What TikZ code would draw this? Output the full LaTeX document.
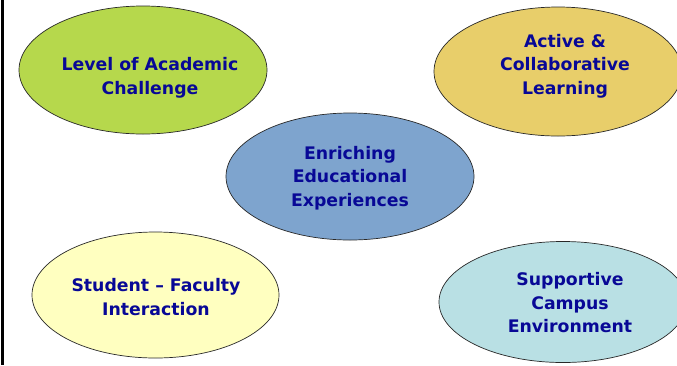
\documentclass[tikz,border=0pt]{standalone}
\usepackage{fontspec}
\setmainfont{DejaVu Sans}
\usetikzlibrary{shapes.geometric}
\definecolor{txtblue}{RGB}{8,8,150}
\definecolor{fgreen}{RGB}{182,216,76}
\definecolor{fyellow}{RGB}{232,206,106}
\definecolor{fblue}{RGB}{126,164,206}
\definecolor{fcream}{RGB}{255,255,192}
\definecolor{fcyan}{RGB}{185,224,228}
\tikzset{
  blob/.style={ellipse, draw={rgb,255:red,40;green,40;blue,40}, line width=0.7pt,
    minimum width=248pt, minimum height=128pt, inner sep=0pt},
  lbl/.style={align=center, text=txtblue, font=\bfseries\fontsize{17.3}{23.5}\selectfont, inner sep=0pt},
}
\begin{document}
\begin{tikzpicture}[x=1pt,y=-1pt]
\useasboundingbox (0,0) rectangle (677,365);
\clip (0,0) rectangle (677,365);
\fill[white] (0,0) rectangle (677,365);
\draw[line width=2.5pt] (2.7,0) -- (2.7,365);
\node[blob, fill=fgreen] (lac) at (143,70) {};
\node[blob, fill=fyellow, minimum height=129pt] (acl) at (558,71.5) {};
\node[blob, fill=fblue, minimum height=127pt] (eee) at (350,176.5) {};
\node[blob, fill=fcream, minimum width=247pt, minimum height=126pt] (sfi) at (155.5,295) {};
\node[blob, fill=fcyan, minimum height=121pt] (sce) at (563,302) {};
\node[lbl] (tlac) at (150,78) {Level of Academic\\Challenge};
\node[lbl] (tacl) at (565,66) {Active \&\\Collaborative\\Learning};
\node[lbl] (teee) at (350,178) {Enriching\\Educational\\Experiences};
\node[lbl] (tsfi) at (156,297) {Student -- Faculty\\Interaction};
\node[lbl] (tsce) at (570,303) {Supportive\\Campus\\Environment};
\end{tikzpicture}
\end{document}
